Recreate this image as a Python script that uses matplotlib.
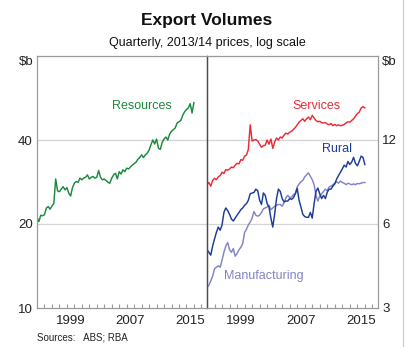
import matplotlib
matplotlib.use("Agg")
import matplotlib.pyplot as plt
from matplotlib.ticker import NullLocator
import numpy as np

plt.rcParams["font.family"] = ["Liberation Sans", "DejaVu Sans"]

# quarterly, 1995 Q1 .. 2016 Q1
quarters = 1995 + 0.25 * np.arange(85)

resources = [21.2, 20.4, 21.5, 21.4, 21.6, 22.8, 23.1, 22.6, 23.2, 23.7,
             29.0, 26.3, 26.1, 26.7, 27.2, 26.5, 27.0, 25.8, 25.2, 27.0,
             28.0, 28.4, 28.2, 29.2, 28.8, 29.2, 29.4, 30.0, 29.0, 29.4,
             29.6, 29.2, 29.4, 31.1, 29.4, 28.8, 29.0, 28.6, 28.2, 28.0,
             29.2, 30.0, 30.4, 29.0, 30.8, 30.2, 31.3, 30.8, 31.7, 31.5,
             32.0, 32.5, 32.9, 33.3, 34.1, 34.6, 35.4, 34.6, 35.4, 35.9,
             36.8, 38.5, 40.0, 38.7, 40.3, 37.4, 37.0, 39.2, 40.3, 41.0,
             40.0, 42.0, 43.0, 43.6, 44.2, 46.0, 46.5, 47.0, 49.0, 50.5,
             51.4, 52.1, 54.0, 50.0, 54.5]

services = [8.3, 8.45, 8.2, 8.6, 8.75, 8.65, 8.85, 8.95, 9.2, 9.1,
            9.4, 9.35, 9.45, 9.6, 9.55, 9.75, 9.9, 9.85, 10.2, 10.15,
            10.5, 10.6, 11.1, 13.6, 11.9, 12.0, 12.05, 11.9, 11.6, 11.3,
            11.45, 11.5, 12.0, 11.6, 12.1, 11.2, 11.8, 12.2, 12.0, 12.3,
            12.2, 12.5, 12.7, 12.6, 12.8, 12.9, 13.1, 13.3, 13.6, 13.9,
            14.1, 14.3, 14.0, 14.3, 14.5, 14.2, 14.7, 14.4, 14.1, 13.95,
            14.0, 13.85, 13.8, 13.85, 13.7, 13.6, 13.75, 13.5, 13.65, 13.5,
            13.6, 13.5, 13.55, 13.65, 13.8, 13.95, 13.9, 14.1, 14.3, 14.6,
            14.9, 15.1, 15.6, 15.8, 15.65]

rural = [4.85, 4.75, 4.64, 5.0, 5.3, 5.6, 5.85, 5.7, 5.95, 6.6,
         6.85, 6.7, 6.5, 6.25, 6.15, 6.3, 6.45, 6.6, 6.75, 6.85,
         7.0, 7.1, 7.3, 7.7, 7.75, 7.78, 8.0, 7.9, 7.3, 7.05,
         7.75, 7.6, 7.1, 6.9, 6.3, 5.85, 6.5, 7.4, 8.0, 7.85,
         7.4, 7.2, 7.25, 7.25, 7.4, 7.35, 7.45, 7.7, 8.05, 7.3,
         6.9, 6.5, 6.38, 6.34, 6.34, 6.6, 6.3, 7.1, 7.85, 8.07,
         7.7, 7.4, 7.6, 7.4, 7.8, 8.0, 8.0, 8.2, 8.35, 8.7,
         8.95, 9.2, 9.45, 9.75, 9.6, 10.05, 9.8, 10.0, 10.4, 9.9,
         9.7, 10.05, 10.5, 10.4, 9.8]

manufacturing = [3.55, 3.62, 3.75, 3.9, 4.15, 4.2, 4.25, 4.2, 4.45, 4.75,
                 5.0, 5.15, 4.85, 4.75, 4.9, 4.6, 4.7, 4.85, 4.95, 5.1,
                 5.6, 5.75, 5.95, 6.1, 6.3, 6.65, 6.45, 6.4, 6.45, 6.6,
                 6.8, 6.85, 6.9, 7.0, 6.75, 6.85, 6.95, 7.0, 7.05, 7.05,
                 6.95, 7.15, 7.45, 7.6, 7.45, 7.5, 7.65, 7.7, 8.15, 8.35,
                 8.5, 8.6, 8.85, 9.0, 9.15, 8.9, 8.65, 8.3, 7.6, 7.25,
                 7.55, 7.7, 7.85, 8.0, 7.9, 8.15, 8.2, 8.3, 8.4, 8.5,
                 8.4, 8.55, 8.45, 8.4, 8.3, 8.4, 8.35, 8.3, 8.35, 8.3,
                 8.38, 8.36, 8.4, 8.45, 8.45]

left_ticks = [10, 20, 40]
right_ticks = [3, 6, 12]
year_labels = [1999, 2007, 2015]

GREEN, RED, NAVY, LILAC = "#1b8a3e", "#ee2a35", "#1c3c96", "#8383c6"
FRAME, DIVIDER, GRID = "#9a9a9a", "#4a4a4a", "#d4d4d4"

W, H = 406, 347
fig = plt.figure(figsize=(W / 100, H / 100), dpi=100)
axL = fig.add_axes([37 / W, 39 / H, 170 / W, 252 / H])
axR = fig.add_axes([207 / W, 39 / H, 171 / W, 252 / H])

def style(ax, lo, hi, ticks, side):
    ax.set_yscale("log", base=2)
    ax.set_ylim(lo, hi)
    ax.set_xlim(1995, 2017.75)
    ax.set_yticks(ticks, [str(t) for t in ticks])
    ax.yaxis.set_minor_locator(NullLocator())
    for t in ticks[1:]:
        ax.axhline(t, color=GRID, lw=0.9, zorder=0)
    ax.set_xticks([y + 0.5 for y in year_labels], [str(y) for y in year_labels])
    ax.set_xticks(np.arange(1996, 2018), minor=True)
    ax.tick_params(axis="x", which="major", length=0, pad=5, labelsize=9.5, colors="#222")
    ax.tick_params(axis="x", which="minor", direction="in", length=3.2, width=0.8, color=FRAME)
    ax.tick_params(axis="y", length=0, labelsize=9.5, colors="#222", pad=3,
                   labelleft=(side == "left"), labelright=(side == "right"))
    for s in ax.spines.values():
        s.set_color(FRAME)
        s.set_linewidth(0.9)
    inner = "right" if side == "left" else "left"
    ax.spines[inner].set_color(DIVIDER)
    ax.patch.set_alpha(0)
    xpos = -0.02 if side == "left" else 1.02
    ax.text(xpos, 1.0, r"\$b", transform=ax.transAxes, fontsize=9.5, color="#222",
            ha="right" if side == "left" else "left", va="top")

style(axL, 10, 80, left_ticks, "left")
style(axR, 3, 24, right_ticks, "right")

axL.plot(quarters, resources, color=GREEN, lw=1.05)
axR.plot(quarters, services, color=RED, lw=1.05)
axR.plot(quarters, manufacturing, color=LILAC, lw=1.05)
axR.plot(quarters, rural, color=NAVY, lw=1.05)

axL.text(2009.0, 53, "Resources", color=GREEN, fontsize=9, ha="center", va="center")
axR.text(2009.5, 15.85, "Services", color=RED, fontsize=9, ha="center", va="center")
axR.text(2012.3, 11.1, "Rural", color=NAVY, fontsize=9, ha="center", va="center")
axR.text(2002.6, 3.91, "Manufacturing", color=LILAC, fontsize=9, ha="center", va="center")

fig.text(207 / W, 1 - 20 / H, "Export Volumes", fontsize=12.5, fontweight="bold",
         ha="center", va="center", color="#111")
fig.text(207 / W, 1 - 43 / H, "Quarterly, 2013/14 prices, log scale", fontsize=9,
         ha="center", va="center", color="#111")
fig.text(37 / W, 1 - 338 / H, "Sources:   ABS; RBA", fontsize=7, ha="left",
         va="center", color="#222")
fig.add_artist(plt.Line2D([403.5 / W, 403.5 / W], [0, 1], color="#c8c8c8", lw=0.8))

fig.savefig("out.png", dpi=100, facecolor="white")
